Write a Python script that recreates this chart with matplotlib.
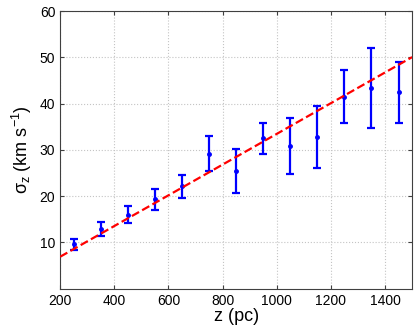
import matplotlib
matplotlib.use('Agg')
import matplotlib.pyplot as plt
import numpy as np

plt.rcParams['font.family'] = ['Liberation Sans', 'DejaVu Sans']
plt.rcParams['mathtext.fontset'] = 'custom'
plt.rcParams['mathtext.rm'] = 'Liberation Sans'
plt.rcParams['mathtext.it'] = 'Liberation Sans'

z = [250, 350, 450, 550, 650, 750, 850, 950, 1050, 1150, 1250, 1350, 1450]
sigma = [9.6, 12.9, 16.0, 19.3, 22.1, 29.2, 25.5, 32.5, 30.8, 32.8, 41.4, 43.4, 42.5]
err_lo = [1.3, 1.5, 1.8, 2.3, 2.5, 3.7, 4.9, 3.4, 6.0, 6.8, 5.6, 8.6, 6.7]
err_hi = [1.2, 1.5, 1.9, 2.2, 2.5, 3.8, 4.7, 3.3, 6.0, 6.6, 5.9, 8.6, 6.5]

# linear fit
slope = 0.0332
intercept = 0.26
zfit = np.array([200, 1500])

fig = plt.figure(figsize=(4.15, 3.28), dpi=100)
ax = fig.add_axes([0.145, 0.12, 0.848, 0.846])

ax.errorbar(z, sigma, yerr=[err_lo, err_hi], fmt='.', color='blue',
            ms=5, elinewidth=1.6, capsize=3, capthick=1.6, zorder=3)
ax.plot(zfit, slope * zfit + intercept, 'r--', lw=1.6, zorder=4)

ax.set_xlim(200, 1500)
ax.set_ylim(0, 60)
ax.set_xticks(range(200, 1401, 200))
ax.set_yticks(range(10, 61, 10))
ax.grid(True, linestyle=':', color='#c4c4c4', lw=0.8)
ax.tick_params(direction='in', top=True, right=True, labelsize=10, length=3,
               color='#404040')
for s in ax.spines.values():
    s.set_color('#404040')

ax.set_xlabel('z (pc)', fontsize=13, labelpad=0)
ax.set_ylabel(r'$\sigma_{\mathrm{z}}$ (km s$^{-1}$)', fontsize=13, labelpad=4)

fig.savefig('out.png', dpi=100)
